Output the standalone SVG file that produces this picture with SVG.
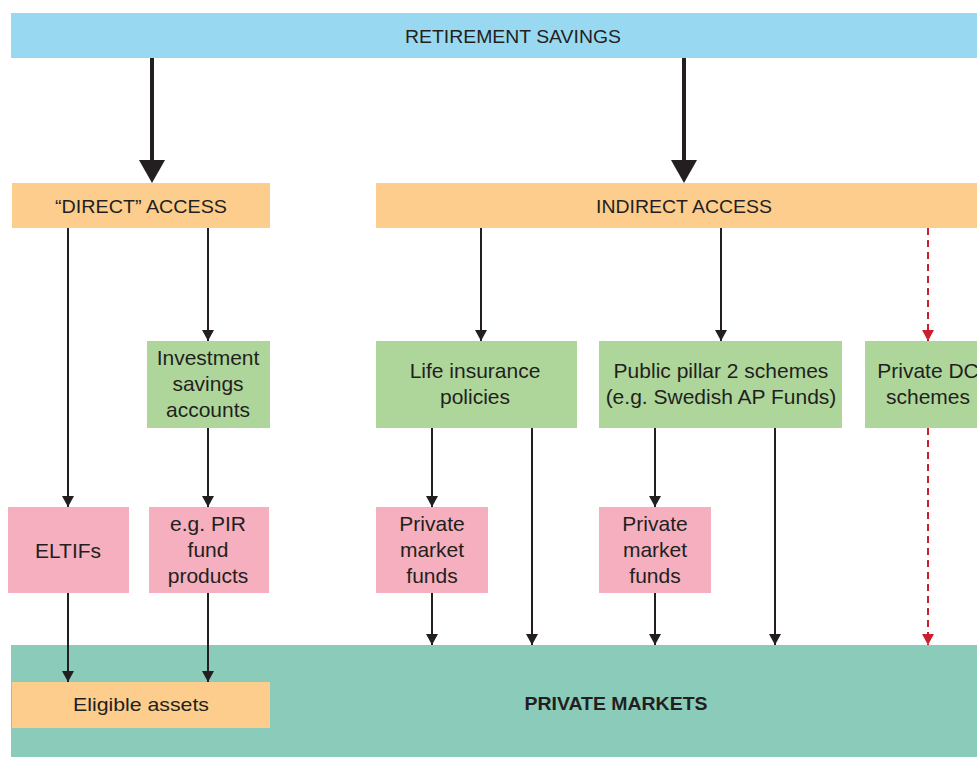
<svg xmlns="http://www.w3.org/2000/svg" width="977" height="757" viewBox="0 0 977 757">
<defs>
<marker id="ah" markerUnits="userSpaceOnUse" markerWidth="12" markerHeight="12" refX="11" refY="6" orient="auto" viewBox="0 0 12 12"><path d="M0,0 L11,6 L0,12 Z" fill="#231f20"/></marker>
<marker id="ahr" markerUnits="userSpaceOnUse" markerWidth="12" markerHeight="12" refX="11" refY="6" orient="auto" viewBox="0 0 12 12"><path d="M0,0 L11,6 L0,12 Z" fill="#c8202f"/></marker>
</defs>
<style>
text{font-family:"Liberation Sans","DejaVu Sans",sans-serif;fill:#231f20;text-anchor:middle}
.cap{font-size:19px}
.t{font-size:21px}
.blue{fill:#98d9f1}
.orange{fill:#fccd8c}
.green{fill:#aed69b}
.pink{fill:#f5afbe}
.teal{fill:#8acbb9}
.c{stroke:#231f20;stroke-width:2;fill:none;marker-end:url(#ah)}
.d{stroke:#c8202f;stroke-width:2;fill:none;stroke-dasharray:7,5;marker-end:url(#ahr)}
.thick{stroke:#231f20;stroke-width:4;fill:none}
</style>
<rect width="977" height="757" fill="#ffffff"/>
<g id="private-markets"><rect class="teal" x="11" y="645" width="966" height="112"/><text x="616" y="710" style="font-size:19px;font-weight:bold" textLength="183" lengthAdjust="spacingAndGlyphs">PRIVATE MARKETS</text></g>
<g id="retirement-savings"><rect class="blue" x="11" y="13" width="966" height="45"/><text class="cap" x="513" y="43" textLength="216" lengthAdjust="spacingAndGlyphs">RETIREMENT SAVINGS</text></g>
<g id="direct-access"><rect class="orange" x="12" y="183" width="258" height="45"/><text class="cap" x="141" y="213" textLength="172" lengthAdjust="spacingAndGlyphs">“DIRECT” ACCESS</text></g>
<g id="indirect-access"><rect class="orange" x="376" y="183" width="601" height="45"/><text class="cap" x="684" y="213" textLength="176" lengthAdjust="spacingAndGlyphs">INDIRECT ACCESS</text></g>
<g id="investment-savings"><rect class="green" x="147" y="341" width="123" height="87"/><text class="t" x="208" y="365">Investment</text><text class="t" x="208" y="391">savings</text><text class="t" x="208" y="417">accounts</text></g>
<g id="life-insurance"><rect class="green" x="376" y="341" width="201" height="87"/><text class="t" x="475" y="378">Life insurance</text><text class="t" x="475" y="404">policies</text></g>
<g id="public-pillar"><rect class="green" x="599" y="341" width="243" height="87"/><text class="t" x="721" y="378">Public pillar 2 schemes</text><text class="t" x="721" y="404">(e.g. Swedish AP Funds)</text></g>
<g id="private-dc"><rect class="green" x="865" y="341" width="120" height="87"/><text class="t" x="928" y="378">Private DC</text><text class="t" x="928" y="404">schemes</text></g>
<g id="eltifs"><rect class="pink" x="8" y="507" width="121" height="86"/><text class="t" x="68" y="558">ELTIFs</text></g>
<g id="pir"><rect class="pink" x="149" y="507" width="120" height="86"/><text class="t" x="208" y="531">e.g. PIR</text><text class="t" x="208" y="557">fund</text><text class="t" x="208" y="583">products</text></g>
<g id="pmf1"><rect class="pink" x="376" y="507" width="112" height="86"/><text class="t" x="432" y="531">Private</text><text class="t" x="432" y="557">market</text><text class="t" x="432" y="583">funds</text></g>
<g id="pmf2"><rect class="pink" x="599" y="507" width="112" height="86"/><text class="t" x="655" y="531">Private</text><text class="t" x="655" y="557">market</text><text class="t" x="655" y="583">funds</text></g>
<g id="eligible-assets"><rect class="orange" x="12" y="682" width="258" height="46"/><text class="cap" x="141" y="711" textLength="136" lengthAdjust="spacingAndGlyphs">Eligible assets</text></g>
<g id="connectors">
<path class="thick" d="M152,58 V162"/><path d="M139,160 L165,160 L152,183 Z" fill="#231f20"/>
<path class="thick" d="M684,58 V162"/><path d="M671,160 L697,160 L684,183 Z" fill="#231f20"/>
<path class="c" d="M68,228 V507"/>
<path class="c" d="M208,228 V341"/>
<path class="c" d="M208,428 V507"/>
<path class="c" d="M481,228 V341"/>
<path class="c" d="M721,228 V341"/>
<path class="d" d="M928,228 V341"/>
<path class="c" d="M432,428 V507"/>
<path class="c" d="M532,428 V645"/>
<path class="c" d="M655,428 V507"/>
<path class="c" d="M775,428 V645"/>
<path class="d" d="M928,428 V645"/>
<path class="c" d="M68,593 V682"/>
<path class="c" d="M208,593 V682"/>
<path class="c" d="M432,593 V645"/>
<path class="c" d="M655,593 V645"/>
</g>
</svg>
